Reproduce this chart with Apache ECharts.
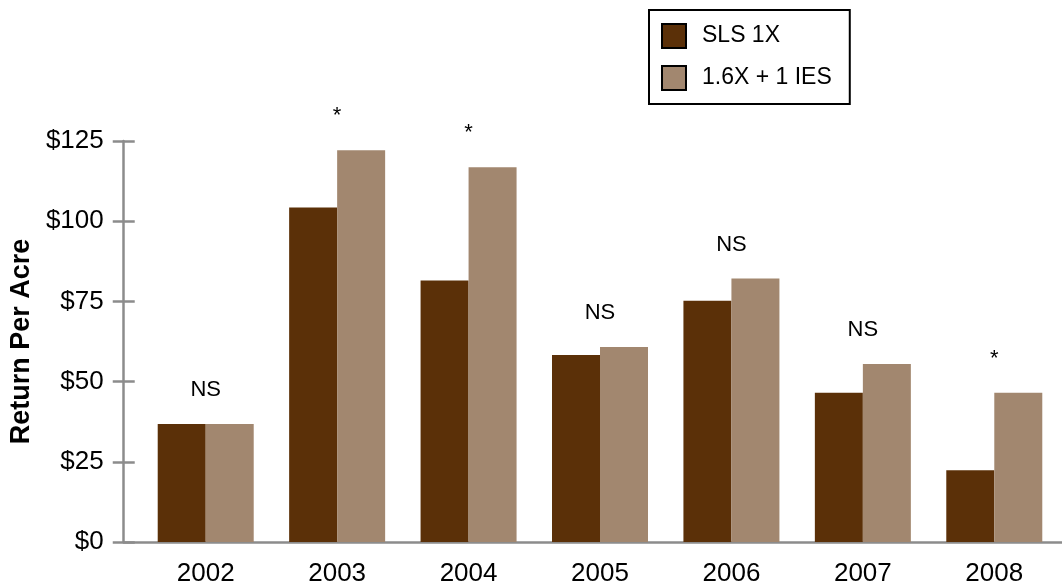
<!DOCTYPE html>
<html>
<head>
<meta charset="utf-8">
<script src="https://cdn.jsdelivr.net/npm/echarts@6/dist/echarts.min.js"></script>
<style>
  html, body { margin: 0; padding: 0; background: #fff; }
  #chart { width: 1062px; height: 588px; }
</style>
</head>
<body>
<div id="chart"></div>
<script>
const categories = ['2002', '2003', '2004', '2005', '2006', '2007', '2008'];
const slsValues = [36.8, 104.3, 81.5, 58.3, 75.2, 46.5, 22.4];
const iesValues = [36.8, 122.1, 116.8, 60.8, 82.1, 55.5, 46.5];
const annotations = ['NS', '*', '*', 'NS', 'NS', 'NS', '*'];
const seriesNames = ['SLS 1X', '1.6X + 1 IES'];
const yTicks = [0, 25, 50, 75, 100, 125];

const FONT = '"Liberation Sans", Arial, Helvetica, sans-serif';
const AXIS_GRAY = '#8c8c8c';

const chart = echarts.init(document.getElementById('chart'), null, { renderer: 'canvas' });

chart.setOption({
  animation: false,
  backgroundColor: '#ffffff',
  textStyle: { fontFamily: FONT },
  legend: {
    data: seriesNames,
    orient: 'vertical',
    left: 649,
    top: 10,
    padding: [13, 18, 13, 12],
    itemWidth: 24,
    itemHeight: 24,
    itemGap: 16,
    icon: 'rect',
    borderColor: '#000',
    borderWidth: 2,
    backgroundColor: '#fff',
    itemStyle: { borderColor: '#000', borderWidth: 2 },
    textStyle: { fontFamily: FONT, fontSize: 23, color: '#000', padding: [0, 0, 0, 11] }
  },
  grid: [
    { left: 140, right: 2, top: 141, bottom: 46, containLabel: false },
    { left: 121, right: 0, top: 141, bottom: 46, containLabel: false }
  ],
  xAxis: [
    {
      type: 'category',
      gridIndex: 0,
      data: categories,
      boundaryGap: true,
      axisLine: { show: false },
      axisTick: { show: false },
      axisLabel: { fontFamily: FONT, fontSize: 26, color: '#000', margin: 19 },
      splitLine: { show: false }
    },
    {
      type: 'value',
      gridIndex: 1,
      min: 0, max: 1,
      axisLine: { show: true, lineStyle: { color: AXIS_GRAY, width: 2.5 } },
      axisTick: { show: false },
      axisLabel: { show: false },
      splitLine: { show: false }
    }
  ],
  yAxis: [
    {
      type: 'value',
      gridIndex: 0,
      min: 0, max: 125, interval: 25,
      show: false,
      splitLine: { show: false }
    },
    {
      type: 'value',
      gridIndex: 1,
      position: 'left',
      min: yTicks[0], max: yTicks[yTicks.length - 1], interval: 25,
      name: 'Return Per Acre',
      nameLocation: 'middle',
      nameRotate: 90,
      nameGap: 86,
      nameTextStyle: { fontFamily: FONT, fontSize: 27, fontWeight: 'bold', color: '#000' },
      axisLine: { show: true, lineStyle: { color: AXIS_GRAY, width: 2.5 } },
      axisTick: { show: true, inside: false, length: 11, lineStyle: { color: AXIS_GRAY, width: 2.5 } },
      axisLabel: { fontFamily: FONT, fontSize: 26, color: '#000', margin: 20, formatter: v => '$' + v },
      splitLine: { show: false }
    },
    {
      type: 'value',
      gridIndex: 1,
      position: 'left',
      min: yTicks[0], max: yTicks[yTicks.length - 1], interval: 25,
      axisLine: { show: false },
      axisTick: { show: true, inside: true, length: 11, lineStyle: { color: AXIS_GRAY, width: 2.5 } },
      axisLabel: { show: false },
      splitLine: { show: false }
    }
  ],
  series: [
    {
      name: seriesNames[0],
      type: 'bar',
      xAxisIndex: 0,
      yAxisIndex: 0,
      data: slsValues,
      barWidth: 48,
      barGap: '0%',
      itemStyle: { color: '#5b3008' }
    },
    {
      name: seriesNames[1],
      type: 'bar',
      xAxisIndex: 0,
      yAxisIndex: 0,
      data: iesValues,
      barWidth: 48,
      barGap: '0%',
      itemStyle: { color: '#a2876f' },
      label: {
        show: true,
        position: 'top',
        distance: 23,
        offset: [-24, 0],
        fontFamily: FONT,
        fontSize: 22,
        color: '#000',
        formatter: p => annotations[p.dataIndex]
      }
    }
  ]
});
</script>
</body>
</html>
